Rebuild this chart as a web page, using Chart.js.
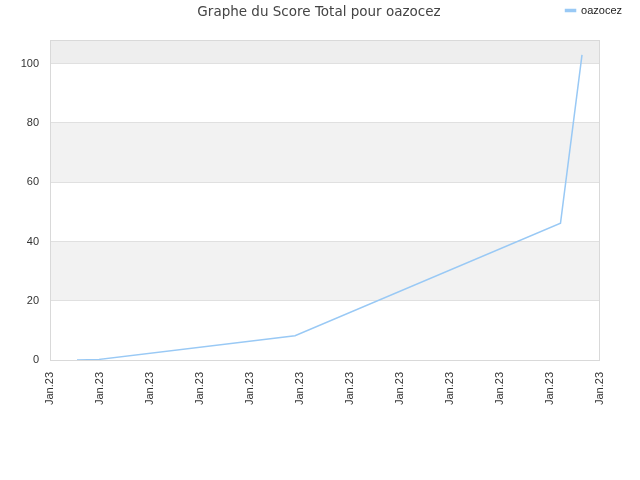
<!DOCTYPE html>
<html>
<head>
<meta charset="utf-8">
<script src="https://cdn.jsdelivr.net/npm/chart.js@4"></script>
<style>
  html, body { margin: 0; padding: 0; background: #fff; }
  #wrap { width: 640px; height: 480px; }
</style>
</head>
<body>
<div id="wrap"><canvas id="myChart" width="640" height="480"></canvas></div>
<script>
// data (x in tick units, one tick = one "Jan.23" label)
const seriesName = "oazocez";
const xValues = [0.54, 0.98, 4.9, 10.21, 10.64];
const scores = [0, 0.2, 8.2, 46.2, 103];
const tickLabel = "Jan.23";
const titleText = "Graphe du Score Total pour oazocez";

const lineColor = "#99c9f5";
const titleFont = "'DejaVu Sans', sans-serif";
const tickFont = "'Liberation Sans', Arial, sans-serif";

// gray/white bands behind the plot, frame, and the title
const bandsPlugin = {
  id: "bands",
  beforeDraw(chart) {
    const { ctx, chartArea: a, scales } = chart;
    const y = scales.y;
    const ticks = y.ticks.map((t) => t.value);
    ticks.push(y.max);
    ctx.save();
    for (let i = 0; i < ticks.length - 1; i++) {
      if (i % 2 === 1) {
        const top = y.getPixelForValue(ticks[i + 1]);
        const bot = y.getPixelForValue(ticks[i]);
        ctx.fillStyle = i === ticks.length - 2 ? "#eeeeee" : "#f2f2f2";
        ctx.fillRect(a.left, top, a.right - a.left, bot - top);
      }
    }
    ctx.restore();
  },
  afterDatasetsDraw(chart) {
    const { ctx, chartArea: a } = chart;
    ctx.save();
    ctx.strokeStyle = "#d9d9d9";
    ctx.lineWidth = 1;
    ctx.strokeRect(a.left + 0.5, a.top + 0.5, a.right - a.left - 1, a.bottom - a.top);
    ctx.restore();
  },
  afterDraw(chart) {
    const { ctx } = chart;
    ctx.save();
    ctx.font = "13.5px " + titleFont;
    ctx.fillStyle = "#444";
    ctx.textAlign = "center";
    ctx.textBaseline = "middle";
    ctx.fillText(titleText, 319, 12);
    ctx.restore();
  },
};

const myChart = new Chart("myChart", {
  type: "line",
  data: {
    datasets: [
      {
        label: seriesName,
        data: xValues.map((x, i) => ({ x: x, y: scores[i] })),
        borderColor: lineColor,
        backgroundColor: lineColor,
        borderWidth: 1.5,
        pointRadius: 0,
        tension: 0,
        fill: false,
        xAxisID: "x",
        yAxisID: "y",
      },
    ],
  },
  options: {
    responsive: false,
    animation: false,
    layout: { padding: { top: 0, right: 13, left: 0, bottom: 0 } },
    plugins: {
      legend: {
        position: "top",
        align: "end",
        labels: {
          boxWidth: 10,
          boxHeight: 2,
          padding: 5,
          color: "#222",
          font: { family: tickFont, size: 11 },
        },
      },
      title: { display: false },
      tooltip: { enabled: false },
    },
    scales: {
      x: {
        type: "linear",
        min: 0,
        max: 11,
        grid: { display: false, drawTicks: false },
        border: { display: false },
        afterFit(scale) {
          scale.height = 120;
        },
        ticks: {
          stepSize: 1,
          autoSkip: false,
          minRotation: 90,
          maxRotation: 90,
          padding: 12,
          color: "#333",
          font: { family: tickFont, size: 11 },
          callback: () => tickLabel,
        },
      },
      // empty top axis only keeps room between legend and plot
      xTop: {
        type: "linear",
        position: "top",
        grid: { display: false, drawTicks: false },
        border: { display: false },
        ticks: { display: false },
        afterFit(scale) {
          scale.height = 14;
        },
      },
      y: {
        min: 0,
        max: 108,
        grid: { color: "#e0e0e0", drawTicks: false },
        border: { display: false },
        afterFit(scale) {
          scale.width = 50;
        },
        ticks: {
          stepSize: 20,
          includeBounds: false,
          padding: 11,
          color: "#333",
          font: { family: tickFont, size: 11 },
        },
      },
      // empty right axis keeps the plot's right edge at 600
      yRight: {
        position: "right",
        grid: { display: false, drawTicks: false },
        border: { display: false },
        ticks: { display: false },
        afterFit(scale) {
          scale.width = 27;
        },
      },
    },
  },
  plugins: [bandsPlugin],
});
</script>
</body>
</html>
